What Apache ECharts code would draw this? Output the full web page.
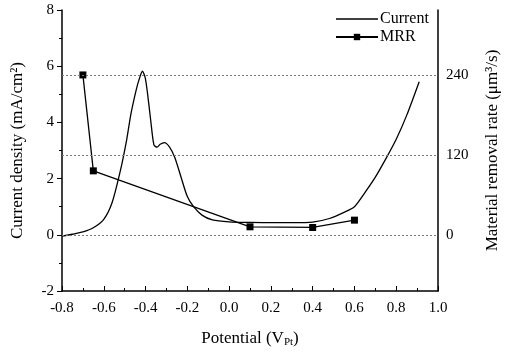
<!DOCTYPE html>
<html>
<head>
<meta charset="utf-8">
<script src="https://cdn.jsdelivr.net/npm/echarts@6/dist/echarts.min.js"></script>
<style>
  html, body { margin: 0; padding: 0; background: #fff; }
  #chart { width: 509px; height: 356px; }
</style>
</head>
<body>
<div id="chart"></div>
<script>
// potential (V) vs current density (mA/cm2)
var currentData = [
    [-0.8, -0.05], [-0.75, 0.02], [-0.7, 0.1], [-0.65, 0.25], [-0.6, 0.55],
    [-0.56, 1.15], [-0.52, 2.3], [-0.49, 3.4], [-0.47, 4.3], [-0.445, 5.15],
    [-0.43, 5.55], [-0.415, 5.82], [-0.402, 5.6], [-0.39, 5.0], [-0.375, 4.05],
    [-0.36, 3.2], [-0.345, 3.12], [-0.33, 3.22], [-0.31, 3.28], [-0.285, 3.12],
    [-0.26, 2.75], [-0.23, 2.05], [-0.2, 1.36], [-0.17, 1.0], [-0.13, 0.7],
    [-0.08, 0.53], [0, 0.46], [0.1, 0.44], [0.2, 0.43], [0.3, 0.43],
    [0.4, 0.45], [0.48, 0.58], [0.55, 0.8], [0.6, 1.0], [0.65, 1.5],
    [0.7, 2.05], [0.75, 2.7], [0.8, 3.4], [0.85, 4.25], [0.91, 5.45]
];
// potential (V) vs material removal rate (um3/s)
var mrrData = [
    [-0.7, 240], [-0.65, 96], [0.1, 12], [0.4, 11], [0.6, 22]
];
var mrrGrid = [0, 120, 240];

var font = 'Liberation Serif';
var chart = echarts.init(document.getElementById('chart'));

chart.setOption({
    animation: false,
    backgroundColor: '#fff',
    textStyle: {fontFamily: font, color: '#000'},
    grid: {left: 62, right: 68, top: 10, bottom: 65},
    legend: {
        orient: 'vertical',
        left: 330,
        top: 6,
        itemWidth: 42,
        itemHeight: 8,
        itemGap: 2,
        textStyle: {fontFamily: font, fontSize: 16, color: '#000', padding: [0, 0, 0, -3]},
        data: [
            {name: 'Current', icon: 'path://M0,3.2H42V4.8H0Z'},
            'MRR'
        ]
    },
    xAxis: {
        type: 'value',
        min: -0.8,
        max: 1.0,
        interval: 0.2,
        name: '{a|Potential (V}{s|Pt}{a|)}',
        nameLocation: 'middle',
        nameGap: 38,
        nameTextStyle: {
            rich: {
                a: {fontFamily: font, fontSize: 17, color: '#000'},
                s: {fontFamily: font, fontSize: 11, color: '#000', verticalAlign: 'bottom', padding: [8, 0, 0, 0]}
            }
        },
        axisLine: {onZero: false, lineStyle: {color: '#000', width: 1.5}},
        axisTick: {inside: true, length: 5, lineStyle: {color: '#000'}},
        minorTick: {show: true, splitNumber: 2, length: 3, lineStyle: {color: '#000'}},
        splitLine: {show: false},
        axisLabel: {
            fontFamily: font, fontSize: 15, color: '#000', margin: 10,
            formatter: function (v) { return v.toFixed(1); }
        }
    },
    yAxis: [
        {
            type: 'value',
            min: -2,
            max: 8,
            interval: 2,
            position: 'left',
            name: 'Current density (mA/cm²)',
            nameLocation: 'middle',
            nameGap: 36,
            nameTextStyle: {fontFamily: font, fontSize: 17, color: '#000'},
            axisLine: {show: true, onZero: false, lineStyle: {color: '#000', width: 1.5}},
            axisTick: {show: true, length: 5, lineStyle: {color: '#000'}},
            minorTick: {show: true, splitNumber: 2, length: 3, lineStyle: {color: '#000'}},
            splitLine: {show: false},
            axisLabel: {fontFamily: font, fontSize: 15, color: '#000', margin: 8}
        },
        {
            type: 'value',
            min: -84.375,
            max: 337.5,
            position: 'right',
            name: 'Material removal rate (μm³/s)',
            nameLocation: 'middle',
            nameGap: 46,
            nameRotate: 90,
            nameTextStyle: {fontFamily: font, fontSize: 17, color: '#000'},
            axisLine: {show: true, onZero: false, lineStyle: {color: '#000', width: 1.5}},
            axisTick: {show: false},
            splitLine: {show: false},
            axisLabel: {
                fontFamily: font, fontSize: 15, color: '#000', margin: 8,
                customValues: mrrGrid
            }
        }
    ],
    series: [
        {
            name: 'Current',
            type: 'line',
            yAxisIndex: 0,
            smooth: 0.25,
            symbol: 'none',
            lineStyle: {color: '#000', width: 1.3},
            itemStyle: {color: '#000'},
            data: currentData
        },
        {
            name: 'MRR',
            type: 'line',
            yAxisIndex: 1,
            symbol: 'rect',
            symbolSize: 7,
            lineStyle: {color: '#000', width: 1.3},
            itemStyle: {color: '#000'},
            data: mrrData,
            markLine: {
                silent: true,
                symbol: 'none',
                label: {show: false},
                lineStyle: {color: '#777', type: [2, 2], width: 1},
                data: mrrGrid.map(function (v) { return {yAxis: v}; })
            }
        }
    ]
});
</script>
</body>
</html>
